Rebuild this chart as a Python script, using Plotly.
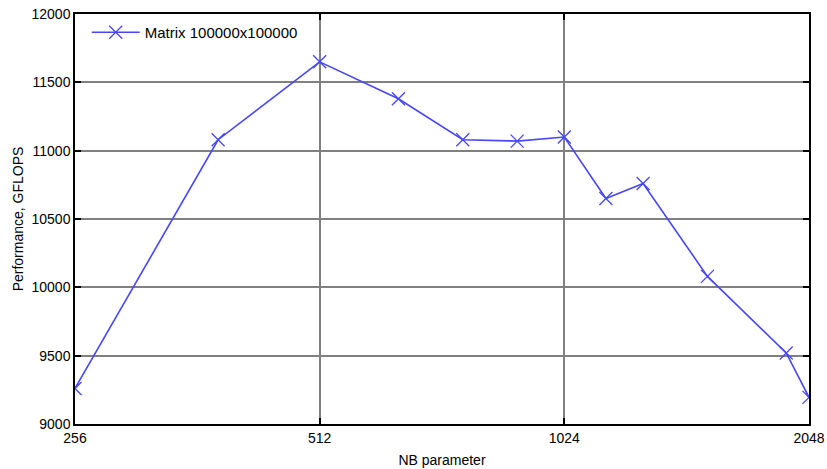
import plotly.graph_objects as go

nb = [256, 384, 512, 640, 768, 896, 1024, 1152, 1280, 1536, 1920, 2048]
gflops = [9260, 11080, 11650, 11380, 11080, 11070, 11100, 10650, 10760, 10080, 9520, 9195]
xticks = [256, 512, 1024, 2048]
series_name = "Matrix 100000x100000"

FONT = "Liberation Sans, Arial, sans-serif"

fig = go.Figure()
fig.add_trace(go.Scatter(
    x=nb, y=gflops, mode="lines+markers", name=series_name,
    line=dict(color="#4646ff", width=1.6),
    marker=dict(symbol="x-thin-open", size=13, line=dict(color="#4646ff", width=1.3)),
))

axis_common = dict(
    showline=True, linecolor="black", linewidth=1.5, mirror="ticks",
    ticks="inside", ticklen=6, tickcolor="black", tickwidth=1.5,
    showgrid=True, gridcolor="#808080", gridwidth=1.5, zeroline=False,
    automargin=False,
    tickfont=dict(family=FONT, size=14, color="black"),
)

fig.update_layout(
    width=827, height=469,
    margin=dict(l=75, r=18, t=14, b=45),
    paper_bgcolor="white", plot_bgcolor="white",
    font=dict(family=FONT, size=14, color="black"),
    showlegend=True,
    legend=dict(x=0.016, y=0.995, xanchor="left", yanchor="top", itemwidth=48,
                bgcolor="rgba(0,0,0,0)", font=dict(family=FONT, size=15)),
    xaxis=dict(type="log", range=[2.40824, 3.31133], tickvals=xticks,
               ticktext=[str(v) for v in xticks],
               title=dict(text="NB parameter", standoff=11,
                          font=dict(family=FONT, size=14)), **axis_common),
    yaxis=dict(range=[9000, 12000], dtick=500, tickformat="d",
               title=dict(text="Performance, GFLOPS", standoff=5,
                          font=dict(family=FONT, size=14)), **axis_common),
)

fig.write_html(
    "out.html",
    config={"displayModeBar": False},
    post_script="document.body.style.margin='0';document.body.style.padding='0';",
)
